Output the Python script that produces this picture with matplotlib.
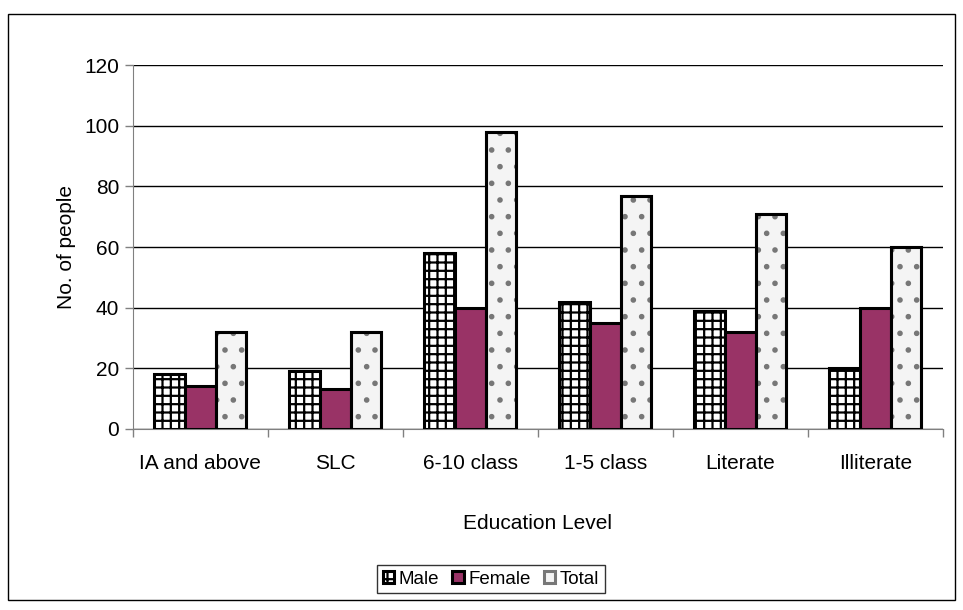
import matplotlib
matplotlib.use("Agg")
import matplotlib.pyplot as plt
import numpy as np
from matplotlib.patches import Rectangle

plt.rcParams['font.family'] = ['Liberation Sans', 'DejaVu Sans']
plt.rcParams['hatch.linewidth'] = 1.6

categories = ["IA and above", "SLC", "6-10 class", "1-5 class", "Literate", "Illiterate"]
male = [18, 19, 58, 42, 39, 20]
female = [14, 13, 40, 35, 32, 40]
total = [32, 32, 98, 77, 71, 60]
y_ticks = [0, 20, 40, 60, 80, 100, 120]

FS = 15

fig = plt.figure(figsize=(9.63, 6.10), dpi=100)
ax = fig.add_axes([0.138, 0.297, 0.841, 0.596])

# outer chart frame
fig.patches.append(Rectangle((8 / 963, 1 - 600 / 610), 947 / 963, 586 / 610,
                             transform=fig.transFigure, fill=False,
                             edgecolor='black', linewidth=1.0))

x = np.arange(len(categories))
w = 0.227
ax.bar(x - w, male, w, facecolor='white', edgecolor='black', hatch='++',
       linewidth=2.2, label='Male', zorder=3)
ax.bar(x, female, w, facecolor='#993366', edgecolor='black',
       linewidth=2.2, label='Female', zorder=3)
ax.bar(x + w, total, w, facecolor='#f4f4f4', edgecolor='#777777', hatch='.',
       linewidth=2.2, label='Total', zorder=3)
# black outline for total bars
ax.bar(x + w, total, w, facecolor='none', edgecolor='black',
       linewidth=2.2, zorder=4)

ax.set_xlim(-0.5, len(categories) - 0.5)
ax.set_ylim(0, 120)
ax.set_yticks(y_ticks)
ax.yaxis.grid(True, color='black', linewidth=1.0)
ax.set_axisbelow(True)

ax.set_xticks(x)
ax.set_xticklabels(categories, fontsize=FS)
ax.tick_params(axis='x', length=0, pad=18)
ax.set_xticks(np.arange(-0.5, len(categories)), minor=True)
ax.tick_params(axis='x', which='minor', length=6, color='#808080', width=1)
ax.tick_params(axis='y', labelsize=FS, length=6, color='#808080', width=1, pad=4)

for s in ['top', 'right']:
    ax.spines[s].set_visible(False)
ax.spines['left'].set_color('#808080')
ax.spines['bottom'].set_color('#808080')

ax.set_xlabel('Education Level', fontsize=FS, labelpad=30)
ax.set_ylabel('No. of people', fontsize=FS, labelpad=6)

leg = fig.legend(loc='center', bbox_to_anchor=(491 / 963, 1 - 579 / 610), ncol=3,
                 fontsize=13.5, frameon=True, fancybox=False, edgecolor='black',
                 handlelength=0.6, handleheight=0.6, handletextpad=0.25,
                 columnspacing=0.7, borderpad=0.3)
leg.get_frame().set_linewidth(1.0)

fig.savefig('out.png', dpi=100)
